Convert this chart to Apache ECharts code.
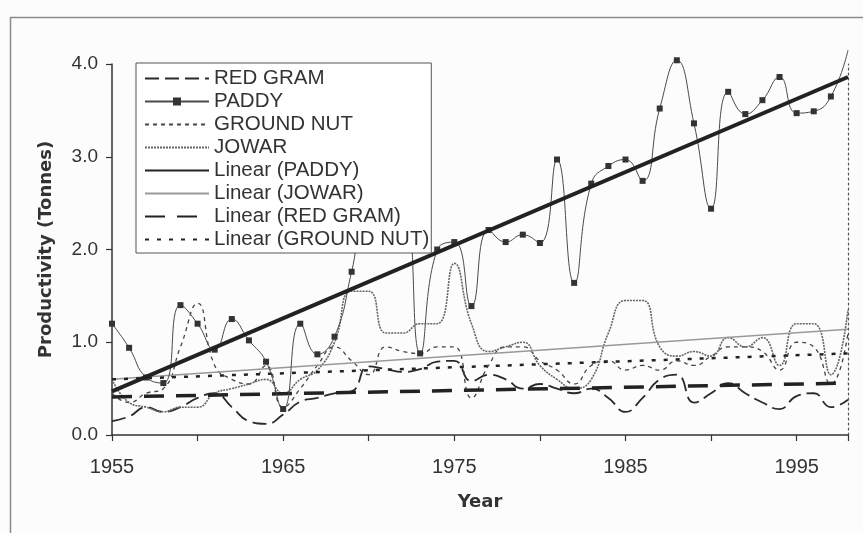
<!DOCTYPE html>
<html>
<head>
<meta charset="utf-8">
<script src="https://cdn.jsdelivr.net/npm/echarts@6/dist/echarts.min.js"></script>
<style>
html,body{margin:0;padding:0;background:#fcfcfc;}
#chart{width:863px;height:533px;}
</style>
</head>
<body>
<div id="chart"></div>
<script>
const years = [1955,1956,1957,1958,1959,1960,1961,1962,1963,1964,1965,1966,1967,1968,1969,1970,1971,1972,1973,1974,1975,1976,1977,1978,1979,1980,1981,1982,1983,1984,1985,1986,1987,1988,1989,1990,1991,1992,1993,1994,1995,1996,1997,1998];

const paddy = [1.20,0.94,0.62,0.56,1.40,1.20,0.92,1.25,1.02,0.79,0.28,1.20,0.87,1.06,1.76,2.60,2.30,2.50,0.88,2.00,2.08,1.39,2.21,2.08,2.16,2.07,2.97,1.64,2.71,2.90,2.97,2.74,3.52,4.04,3.36,2.44,3.70,3.46,3.61,3.86,3.47,3.49,3.65,4.15];

const redGram = [0.15,0.20,0.30,0.25,0.30,0.40,0.45,0.30,0.15,0.12,0.22,0.36,0.40,0.45,0.47,0.74,0.71,0.68,0.71,0.79,0.80,0.58,0.65,0.60,0.50,0.55,0.50,0.45,0.50,0.40,0.25,0.40,0.60,0.65,0.35,0.45,0.56,0.45,0.35,0.28,0.42,0.45,0.30,0.38];

const groundNut = [0.45,0.35,0.45,0.50,0.95,1.42,0.75,0.60,0.55,0.75,0.30,0.50,0.75,0.95,0.80,0.65,0.95,0.90,0.88,0.95,0.95,0.40,0.75,0.95,0.95,0.80,0.70,0.55,0.75,0.80,0.70,0.75,0.70,0.80,0.75,0.85,0.95,0.95,0.90,0.70,1.00,0.95,0.55,1.10];

const jowar = [0.60,0.35,0.30,0.25,0.30,0.30,0.45,0.50,0.55,0.60,0.45,0.60,0.70,1.00,1.55,1.55,1.10,1.10,1.20,1.20,1.85,1.20,0.90,0.95,1.00,0.75,0.60,0.50,0.60,1.10,1.45,1.45,0.95,0.85,0.90,0.85,1.05,0.95,1.05,0.75,1.20,1.20,0.65,1.35];

const trendYears = [1955,1998];
const paddyTrend = [0.47,3.86];
const jowarTrend = [0.60,1.14];
const redGramTrend = [0.41,0.56];
const groundNutTrend = [0.60,0.88];

const yTicks = ['0.0','1.0','2.0','3.0','4.0'];
const xLabelYears = [1955,1965,1975,1985,1995];

const pairs = (xs, ys) => xs.map((x,i)=>[x, ys[i]]);

const chart = echarts.init(document.getElementById('chart'), null, {renderer:'canvas'});
const font = 'Liberation Sans, Arial, sans-serif';
const boldFont = 'DejaVu Sans, Liberation Sans, sans-serif';

const legendNames = ['RED GRAM','PADDY','GROUND NUT','JOWAR','Linear (PADDY)','Linear (JOWAR)','Linear (RED GRAM)','Linear (GROUND NUT)'];

// paddy: last point leaves the plot at the top, so no marker is drawn for it
const paddyData = pairs(years, paddy).map((p,i,arr) => i===arr.length-1 ? {value:p, symbol:'none'} : p);

const option = {
  animation:false,
  backgroundColor:'#fcfcfc',
  graphic:[{
    type:'rect', left:8, top:15, shape:{width:870, height:540},
    style:{fill:'none', stroke:'#8a8a8a', lineWidth:1.5}, silent:true
  }],
  grid:{left:112, right:15, top:64, bottom:98, containLabel:false},
  legend:{
    orient:'vertical', left:136, top:63, z:20,
    backgroundColor:'#ffffff', borderColor:'#555', borderWidth:1,
    padding:[5,2,3,8], itemGap:2, itemWidth:64, itemHeight:10,
    itemStyle:{opacity:0},
    textStyle:{fontFamily:font, fontSize:20.5, color:'#333', lineHeight:20},
    data:legendNames.map(n => n==='PADDY' ? {name:n, itemStyle:{opacity:1}} : {name:n})
  },
  xAxis:{
    type:'value', min:1955, max:1998, interval:5,
    name:'Year', nameLocation:'middle', nameGap:58,
    nameTextStyle:{fontFamily:boldFont, fontSize:18, fontWeight:'bold', color:'#333'},
    axisLine:{lineStyle:{color:'#333', width:1.5}},
    axisTick:{length:6, lineStyle:{color:'#333', width:1.2}},
    splitLine:{show:false},
    axisLabel:{fontFamily:font, fontSize:20, color:'#333', margin:22,
      formatter:v=> xLabelYears.indexOf(v)>=0 ? String(v) : ''}
  },
  yAxis:[{
    type:'value', min:0, max:4, interval:1,
    name:'Productivity (Tonnes)', nameLocation:'middle', nameGap:57,
    nameTextStyle:{fontFamily:boldFont, fontSize:18, fontWeight:'bold', color:'#333'},
    axisLine:{show:true, lineStyle:{color:'#333', width:1.5}},
    axisTick:{show:true, length:6, lineStyle:{color:'#333', width:1.2}},
    splitLine:{show:false},
    axisLabel:{fontFamily:font, fontSize:19, color:'#333', margin:14,
      formatter:v=> yTicks[Math.round(v)]}
  },{
    type:'value', min:0, max:4, interval:1, position:'right',
    axisLine:{show:true, lineStyle:{color:'#555', width:1.2, type:[2,3]}},
    axisTick:{show:false}, axisLabel:{show:false}, splitLine:{show:false}
  }],
  series:[
    {name:'RED GRAM', type:'line', smooth:0.5, symbol:'none', z:3,
     data:pairs(years, redGram), lineStyle:{color:'#2a2a2a', width:1.8, type:[14,6]}, itemStyle:{color:'#2a2a2a'}},
    {name:'PADDY', type:'line', smooth:0.5, symbol:'rect', symbolSize:6, z:4, clip:false,
     data:paddyData, lineStyle:{color:'#4a4a4a', width:1}, itemStyle:{color:'#333'}},
    {name:'GROUND NUT', type:'line', smooth:0.5, symbol:'none', z:3,
     data:pairs(years, groundNut), lineStyle:{color:'#444', width:1.3, type:[4,4]}, itemStyle:{color:'#444'}},
    {name:'JOWAR', type:'line', smooth:0.5, symbol:'none', z:3,
     data:pairs(years, jowar), lineStyle:{color:'#666', width:1.6, type:[2,1]}, itemStyle:{color:'#666'}},
    {name:'Linear (PADDY)', type:'line', symbol:'none', z:5,
     data:pairs(trendYears, paddyTrend), lineStyle:{color:'#222', width:4}, itemStyle:{color:'#222'}},
    {name:'Linear (JOWAR)', type:'line', symbol:'none', z:3,
     data:pairs(trendYears, jowarTrend), lineStyle:{color:'#999', width:1.5}, itemStyle:{color:'#999'}},
    {name:'Linear (RED GRAM)', type:'line', symbol:'none', z:3,
     data:pairs(trendYears, redGramTrend), lineStyle:{color:'#222', width:3.5, type:[20,12]}, itemStyle:{color:'#222'}},
    {name:'Linear (GROUND NUT)', type:'line', symbol:'none', z:3,
     data:pairs(trendYears, groundNutTrend), lineStyle:{color:'#222', width:2.5, type:[4,8]}, itemStyle:{color:'#222'}}
  ]
};
chart.setOption(option);
</script>
</body>
</html>
